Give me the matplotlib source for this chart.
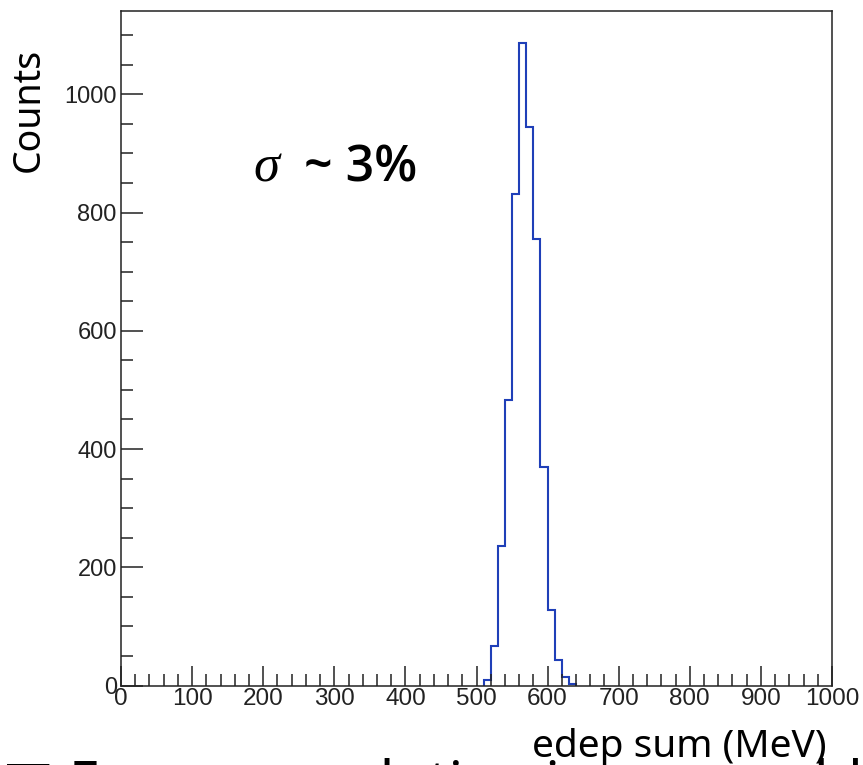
import numpy as np
import matplotlib
matplotlib.use("Agg")
import matplotlib.pyplot as plt
from matplotlib.ticker import MultipleLocator

# ---- data (histogram of summed energy deposit, 10 MeV bins) ----
bin_low_edges = [510, 520, 530, 540, 550, 560, 570, 580, 590, 600, 610, 620, 630]
counts = [10, 66, 236, 483, 832, 1087, 945, 755, 369, 128, 43, 14, 2]
bin_width = 10
x_range = (0, 1000)
y_range = (0, 1141)
x_label = "edep sum (MeV)"
y_label = "Counts"
annotation_sigma = "σ"
annotation_rest = "~ 3%"
footer_text = "■ Energy resolution in our world"

edges = list(bin_low_edges) + [bin_low_edges[-1] + bin_width]

W, H = 863, 765
fig = plt.figure(figsize=(W / 100, H / 100), dpi=100)
ax = fig.add_axes([121 / W, 1 - 685.5 / H, (832 - 121) / W, (685.5 - 11) / H])

ax.stairs(counts, edges, color="#1f3fb8", linewidth=1.5, baseline=0)

ax.set_xlim(*x_range)
ax.set_ylim(*y_range)

ax.xaxis.set_major_locator(MultipleLocator(100))
ax.xaxis.set_minor_locator(MultipleLocator(20))
ax.yaxis.set_major_locator(MultipleLocator(200))
ax.yaxis.set_minor_locator(MultipleLocator(50))

ax.tick_params(axis="both", which="both", direction="in", top=False, right=False,
               width=1.1, color="#222222")
ax.tick_params(axis="x", which="major", length=14.5, pad=2, labelsize=17.5)
ax.tick_params(axis="x", which="minor", length=8.5)
ax.tick_params(axis="y", which="major", length=15.5, pad=3, labelsize=17)
ax.tick_params(axis="y", which="minor", length=8.5)

for lab in ax.get_xticklabels() + ax.get_yticklabels():
    lab.set_fontfamily("Liberation Sans")
    lab.set_color("#222222")

for sp in ax.spines.values():
    sp.set_linewidth(1.1)
    sp.set_color("#222222")

# axis titles (ROOT style placement)
fig.text(29 / W, 1 - 48 / H, y_label, rotation=90, ha="center", va="top",
         fontsize=27, family="Noto Sans", color="black")
fig.text(826 / W, 1 - 757 / H, x_label, ha="right", va="baseline",
         fontsize=28, family="Noto Sans", color="black")

# annotation
fig.text(253 / W, 1 - 181 / H, annotation_sigma, ha="left", va="baseline",
         fontsize=38, family="Liberation Serif", style="italic", color="black")
fig.text(304 / W, 1 - 181 / H, annotation_rest, ha="left", va="baseline",
         fontsize=36, family="Open Sans", weight="semibold", color="black")

# footer text of the slide, cut off by the image edge
fig.text(2 / W, 1 - 800 / H, footer_text, ha="left", va="baseline",
         fontsize=40, family=["Noto Sans", "DejaVu Sans"], color="black")

fig.savefig("out.png", dpi=100)
